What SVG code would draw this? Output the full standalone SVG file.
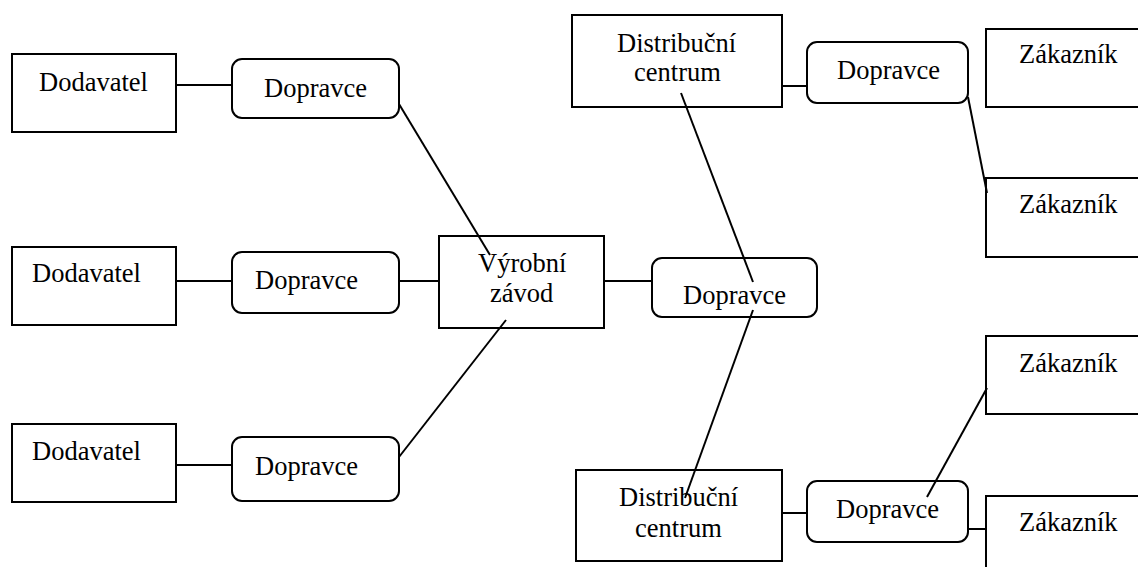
<svg xmlns="http://www.w3.org/2000/svg" width="1138" height="567" viewBox="0 0 1138 567">
<style>
.box{fill:#fff;stroke:#000;stroke-width:2}
.t{font-size:26.5px;fill:#000}
.c{stroke:#000;stroke-width:2;fill:none}
</style>
<rect width="1138" height="567" fill="#fff"/>
<g id="connectors">
<line class="c" x1="176" y1="85" x2="232" y2="85"/>
<line class="c" x1="176" y1="281" x2="232" y2="281"/>
<line class="c" x1="176" y1="465" x2="232" y2="465"/>
<line class="c" x1="399" y1="281" x2="439" y2="281"/>
<line class="c" x1="604" y1="281" x2="652" y2="281"/>
<line class="c" x1="782" y1="86" x2="807" y2="86"/>
<line class="c" x1="782" y1="513" x2="807" y2="513"/>
<line class="c" x1="968" y1="529" x2="986" y2="529"/>
</g>
<g font-family="Liberation Serif, Times New Roman, DejaVu Serif, serif">
<g id="n-dod1"><rect class="box" x="12" y="54" width="164" height="78"/><text class="t" x="39" y="91">Dodavatel</text></g>
<g id="n-dod2"><rect class="box" x="12" y="247" width="164" height="78"/><text class="t" x="32" y="282">Dodavatel</text></g>
<g id="n-dod3"><rect class="box" x="12" y="424" width="164" height="78"/><text class="t" x="32" y="460">Dodavatel</text></g>
<g id="n-dop1"><rect class="box" x="232" y="59" width="167" height="59" rx="10"/><text class="t" x="264" y="97">Dopravce</text></g>
<g id="n-dop2"><rect class="box" x="232" y="252" width="167" height="61" rx="10"/><text class="t" x="255" y="289">Dopravce</text></g>
<g id="n-dop3"><rect class="box" x="232" y="437" width="167" height="64" rx="10"/><text class="t" x="255" y="475">Dopravce</text></g>
<g id="n-vyr"><rect class="box" x="439" y="236" width="165" height="92"/><text class="t" x="478" y="272">Výrobní</text><text class="t" x="490" y="302">závod</text></g>
<g id="n-dopc"><rect class="box" x="652" y="258" width="165" height="59" rx="10"/><text class="t" x="683" y="304">Dopravce</text></g>
<g id="n-dc1"><rect class="box" x="572" y="15" width="210" height="92"/><text class="t" x="617" y="52">Distribuční</text><text class="t" x="634" y="81">centrum</text></g>
<g id="n-dc2"><rect class="box" x="576" y="470" width="206" height="91"/><text class="t" x="619" y="506">Distribuční</text><text class="t" x="635" y="537">centrum</text></g>
<g id="n-dop4"><rect class="box" x="807" y="42" width="161" height="61" rx="10"/><text class="t" x="837" y="79">Dopravce</text></g>
<g id="n-dop5"><rect class="box" x="807" y="481" width="161" height="61" rx="10"/><text class="t" x="836" y="518">Dopravce</text></g>
<g id="n-zak1"><rect class="box" x="986" y="29" width="200" height="78"/><text class="t" x="1019" y="63">Zákazník</text></g>
<g id="n-zak2"><rect class="box" x="986" y="178" width="200" height="79"/><text class="t" x="1019" y="213">Zákazník</text></g>
<g id="n-zak3"><rect class="box" x="986" y="336" width="200" height="78"/><text class="t" x="1019" y="372">Zákazník</text></g>
<g id="n-zak4"><rect class="box" x="986" y="496" width="200" height="100"/><text class="t" x="1019" y="531">Zákazník</text></g>
</g>
<g id="connectors-diag">
<line class="c" x1="399" y1="104" x2="490" y2="255"/>
<line class="c" x1="506" y1="320" x2="399" y2="457"/>
<line class="c" x1="681" y1="93" x2="753" y2="282"/>
<line class="c" x1="753" y1="310" x2="685" y2="498"/>
<line class="c" x1="968" y1="97" x2="987" y2="193"/>
<line class="c" x1="987" y1="388" x2="927" y2="497"/>
</g>
</svg>
